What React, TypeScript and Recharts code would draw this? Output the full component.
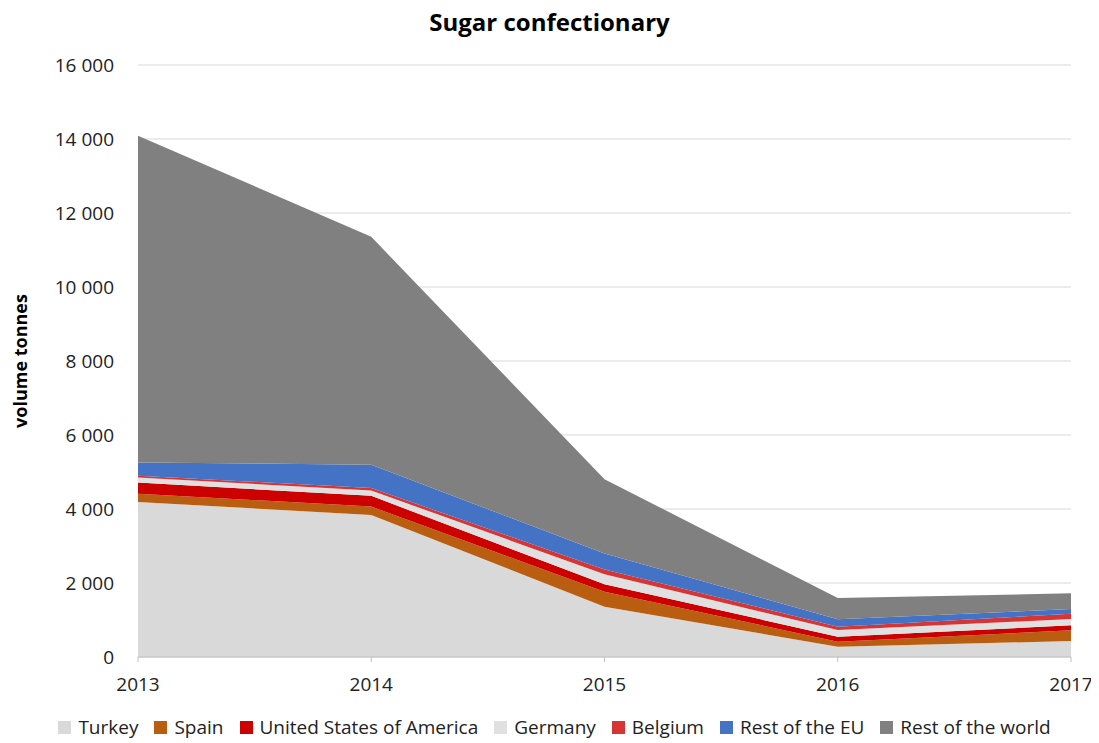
import { AreaChart, Area, XAxis, YAxis, CartesianGrid, Legend } from 'recharts';

const years = ['2013', '2014', '2015', '2016', '2017'];

const turkey = [4190, 3840, 1360, 280, 430];
const spain = [225, 225, 405, 135, 290];
const usa = [300, 290, 200, 135, 135];
const germany = [135, 145, 270, 180, 170];
const belgium = [50, 65, 130, 90, 145];
const restEU = [360, 630, 430, 200, 125];
const restWorld = [8830, 6160, 2010, 575, 425];

const yTicks = [0, 2000, 4000, 6000, 8000, 10000, 12000, 14000, 16000];

const series = [
  { key: 'turkey', name: 'Turkey', values: turkey, color: '#d9d9d9' },
  { key: 'spain', name: 'Spain', values: spain, color: '#b95e10' },
  { key: 'usa', name: 'United States of America', values: usa, color: '#cc0000' },
  { key: 'germany', name: 'Germany', values: germany, color: '#e0e0e0' },
  { key: 'belgium', name: 'Belgium', values: belgium, color: '#d93434' },
  { key: 'restEU', name: 'Rest of the EU', values: restEU, color: '#4472c4' },
  { key: 'restWorld', name: 'Rest of the world', values: restWorld, color: '#808080' },
];

const chartData = years.map((year, i) => {
  const row: Record<string, string | number> = { year };
  series.forEach(s => {
    row[s.key] = s.values[i];
  });
  return row;
});

const fmt = (v: number) => String(v).replace(/\B(?=(\d{3})+(?!\d))/g, ' ');

const font = '"Open Sans", sans-serif';

function LegendContent() {
  return (
    <div
      style={{
        display: 'flex',
        justifyContent: 'center',
        paddingLeft: 30,
        fontFamily: font,
        fontSize: 19,
        color: '#222',
        lineHeight: '24px',
      }}
    >
      {series.map((s, i) => (
        <span
          key={s.key}
          style={{ display: 'flex', alignItems: 'center', marginRight: i === series.length - 1 ? 0 : 16 }}
        >
          <span style={{ width: 13, height: 13, background: s.color, display: 'inline-block', marginRight: 7 }} />
          {s.name}
        </span>
      ))}
    </div>
  );
}

export default function App() {
  return (
    <div style={{ position: 'relative', width: 1091, height: 735, fontFamily: font }}>
      <div
        style={{
          position: 'absolute',
          top: -3,
          left: 0,
          width: 1083,
          textAlign: 'center',
          fontSize: 24,
          fontWeight: 'bold',
          color: '#000',
        }}
      >
        Sugar confectionary
      </div>
      <AreaChart width={1091} height={735} data={chartData} margin={{ top: 57, right: 28, left: 0, bottom: 4 }}>
        <CartesianGrid vertical={false} stroke="#d9d9d9" />
        <XAxis
          dataKey="year"
          stroke="#bfbfbf"
          tickSize={5}
          tickMargin={16}
          height={58}
          tick={{ fill: '#222', fontSize: 19, fontFamily: font }}
        />
        <YAxis
          width={130}
          domain={[0, 16000]}
          ticks={yTicks}
          tickFormatter={fmt}
          axisLine={false}
          tickLine={false}
          tickSize={0}
          tickMargin={24}
          tick={{ fill: '#222', fontSize: 19, fontFamily: font }}
          label={{
            value: 'volume tonnes',
            angle: -90,
            position: 'insideLeft',
            offset: 13,
            style: { fontWeight: 'bold', fontSize: 18, fill: '#000', fontFamily: font, textAnchor: 'middle' },
          }}
        />
        <Legend verticalAlign="bottom" height={24} wrapperStyle={{ height: 24 }} content={<LegendContent />} />
        {series.map(s => (
          <Area
            key={s.key}
            type="linear"
            dataKey={s.key}
            name={s.name}
            stackId="1"
            stroke="none"
            fill={s.color}
            fillOpacity={1}
            isAnimationActive={false}
          />
        ))}
      </AreaChart>
    </div>
  );
}
